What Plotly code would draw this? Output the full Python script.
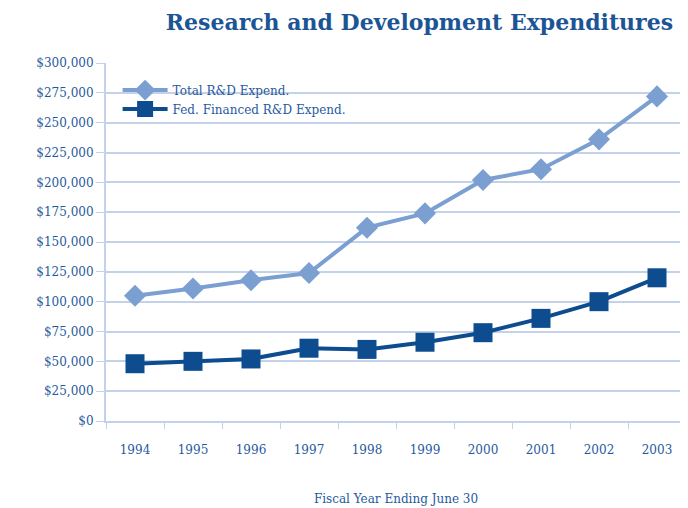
import plotly.graph_objects as go

years = ["1994", "1995", "1996", "1997", "1998", "1999", "2000", "2001", "2002", "2003"]
total_rd = [105000, 111000, 118000, 124000, 162000, 174000, 202000, 211000, 236000, 272000]
fed_rd = [48000, 50000, 52000, 61000, 60000, 66000, 74000, 86000, 100000, 120000]
ytick_vals = list(range(0, 300001, 25000))
ytick_text = ["$0"] + [f"${v:,}" for v in ytick_vals[1:]]

light = "#7b9fd1"
dark = "#0d4d8f"
txt = "#1f5a9e"
grid = "#c3d2ea"

fig = go.Figure()
fig.add_trace(go.Scatter(
    x=years, y=total_rd, name="Total R&D Expend.", mode="lines+markers",
    line=dict(color=light, width=4),
    marker=dict(symbol="diamond", size=17, color=light),
))
fig.add_trace(go.Scatter(
    x=years, y=fed_rd, name="Fed. Financed R&D Expend.", mode="lines+markers",
    line=dict(color=dark, width=4),
    marker=dict(symbol="square", size=19, color=dark),
))

fig.update_layout(
    width=680, height=500,
    margin=dict(l=98, r=2, t=55, b=87),
    paper_bgcolor="white", plot_bgcolor="white",
    font=dict(family="DejaVu Serif", color=txt, size=12),
    title=dict(text="<b>Research and Development Expenditures</b>",
               x=0.605, xanchor="center", y=0.972, yanchor="middle",
               font=dict(family="DejaVu Serif", size=22, color="#1b5596")),
    showlegend=True,
    legend=dict(x=0.02, y=0.965, xanchor="left", yanchor="top",
                bgcolor="rgba(255,255,255,0)", font=dict(size=12, color=txt),
                tracegroupgap=0, itemwidth=45),
    xaxis=dict(
        type="category", range=[-0.5, 9.5],
        showline=True, linecolor=grid, linewidth=2,
        ticks="outside", tickson="boundaries", ticklen=6, tickcolor=grid,
        ticklabelstandoff=17,
        showgrid=False, tickfont=dict(size=12, color=txt),
        title=dict(text="Fiscal Year Ending June 30", standoff=38,
                   font=dict(size=12, color=txt)),
    ),
    yaxis=dict(
        range=[0, 300000], tickvals=ytick_vals, ticktext=ytick_text,
        showline=True, linecolor=grid, linewidth=2,
        ticks="outside", ticklen=8, tickcolor=grid,
        showgrid=True, gridcolor=grid, gridwidth=2,
        zeroline=False, tickfont=dict(size=12, color=txt),
    ),
)

fig.write_html("out.html")
